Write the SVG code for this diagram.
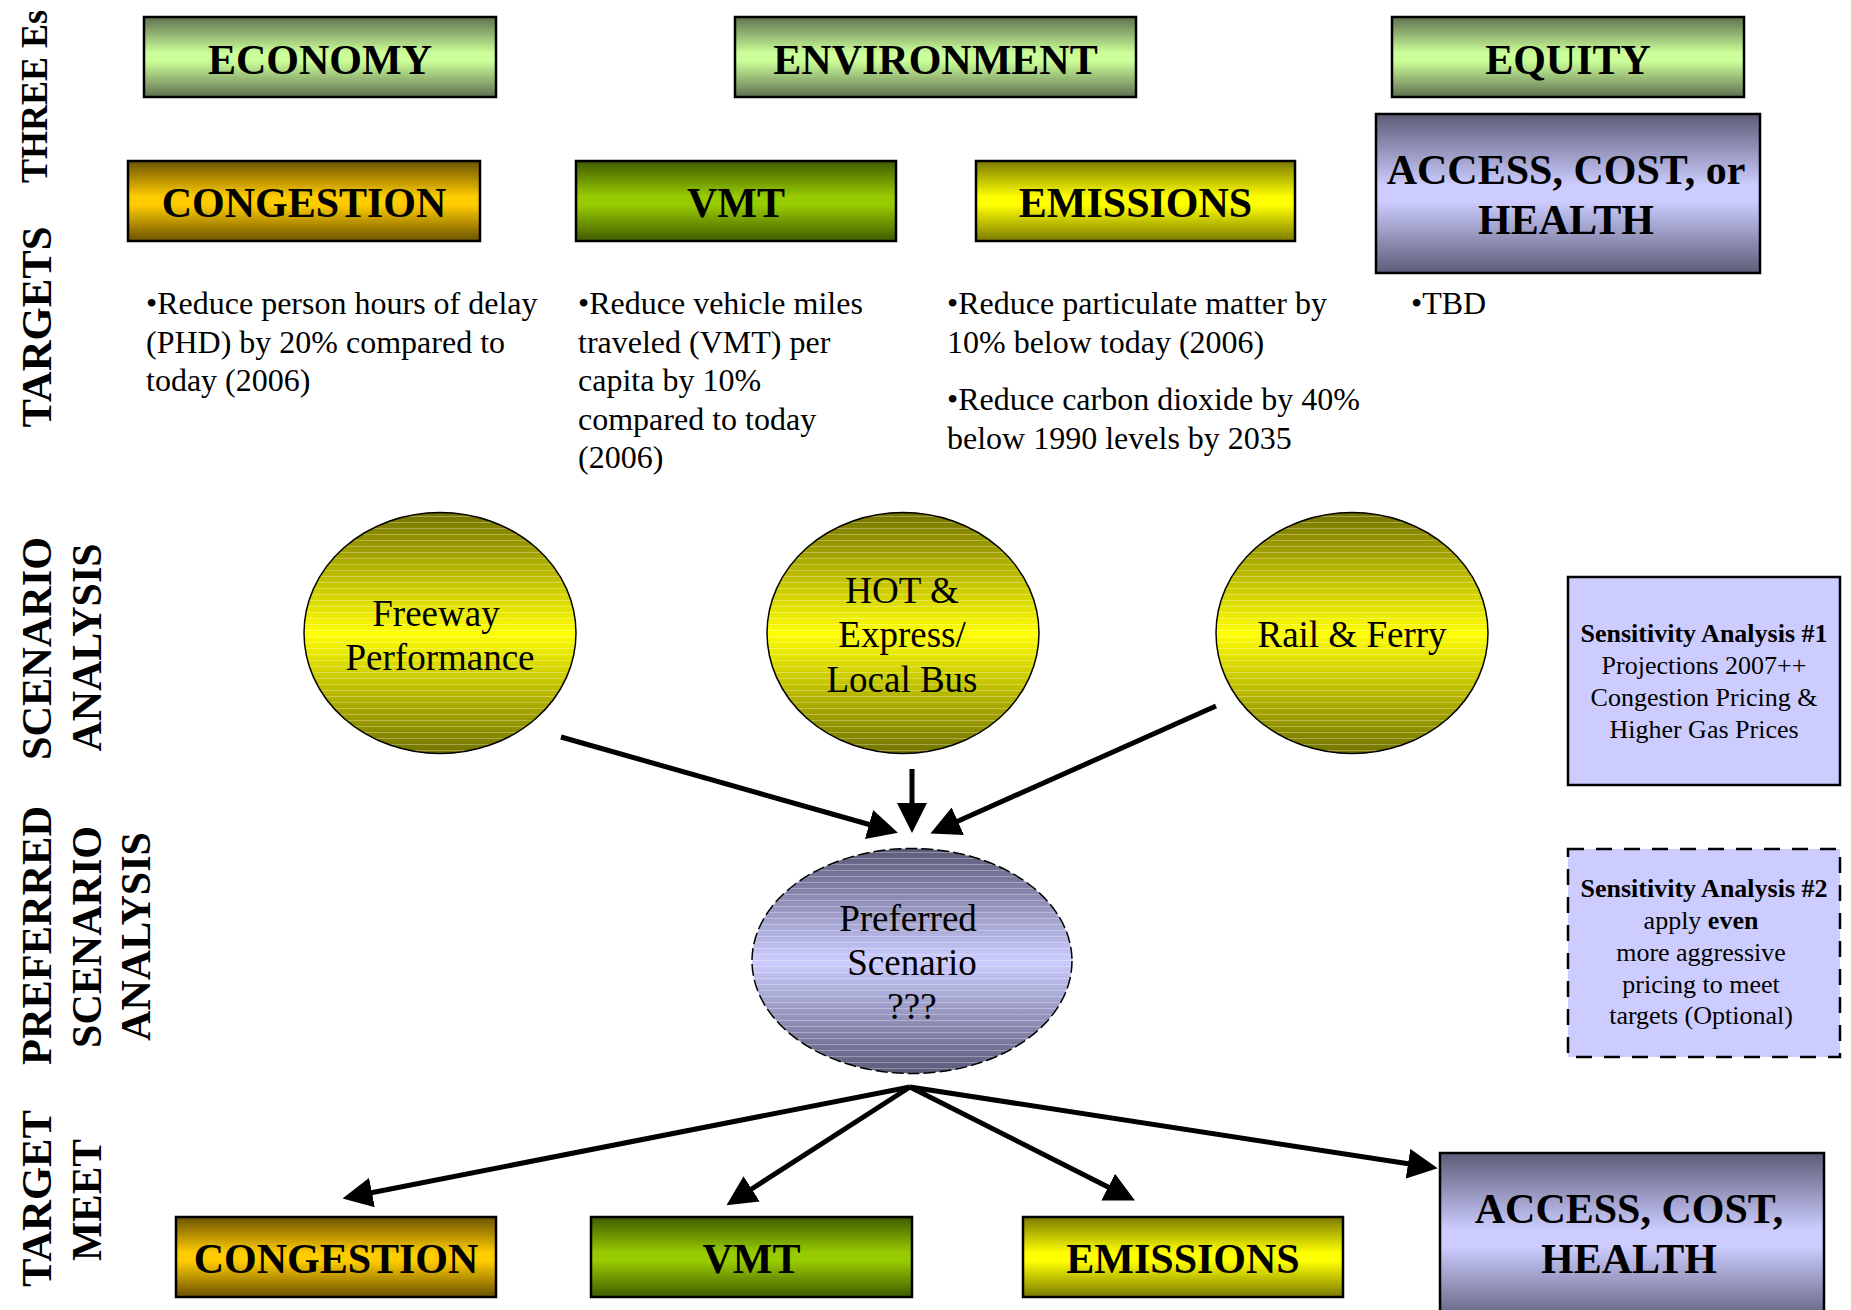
<svg xmlns="http://www.w3.org/2000/svg" width="1851" height="1310" viewBox="0 0 1851 1310">
<style>
.box{stroke:#000;stroke-width:2.5}
.hdr{font-family:"Liberation Serif","Times New Roman",serif;font-weight:bold;font-size:42px;text-anchor:middle;fill:#000}
.side{font-family:"Liberation Serif","Times New Roman",serif;font-weight:bold;font-size:43px;text-anchor:middle;fill:#000}
.body{font-family:"Liberation Serif","Times New Roman",serif;font-size:32px;fill:#000}
.ell{font-family:"Liberation Serif","Times New Roman",serif;font-size:37px;text-anchor:middle;fill:#000}
.sens{font-family:"Liberation Serif","Times New Roman",serif;font-size:26px;text-anchor:middle;fill:#000}
.b{font-weight:bold}
.conn{stroke:#000;stroke-width:5;fill:none;marker-end:url(#ah)}
</style>
<defs>
<marker id="ah" viewBox="0 0 30 30" refX="2" refY="15" markerWidth="30" markerHeight="30" markerUnits="userSpaceOnUse" orient="auto">
<path d="M0,0 L30,15 L0,30 z" fill="#000"/>
</marker>
<linearGradient id="gE" x1="0" y1="0" x2="0" y2="1"><stop offset="0" stop-color="#5f7050"/><stop offset="0.45" stop-color="#ccff99"/><stop offset="0.55" stop-color="#ccff99"/><stop offset="1" stop-color="#5f7050"/></linearGradient>
<linearGradient id="gC" x1="0" y1="0" x2="0" y2="1"><stop offset="0" stop-color="#6b5200"/><stop offset="0.45" stop-color="#ffcc00"/><stop offset="0.55" stop-color="#ffcc00"/><stop offset="1" stop-color="#6b5200"/></linearGradient>
<linearGradient id="gV" x1="0" y1="0" x2="0" y2="1"><stop offset="0" stop-color="#3f5a00"/><stop offset="0.45" stop-color="#99cc00"/><stop offset="0.55" stop-color="#99cc00"/><stop offset="1" stop-color="#3f5a00"/></linearGradient>
<linearGradient id="gM" x1="0" y1="0" x2="0" y2="1"><stop offset="0" stop-color="#7a7a00"/><stop offset="0.45" stop-color="#ffff00"/><stop offset="0.55" stop-color="#ffff00"/><stop offset="1" stop-color="#7a7a00"/></linearGradient>
<linearGradient id="gA" x1="0" y1="0" x2="0" y2="1"><stop offset="0" stop-color="#5c5c78"/><stop offset="0.45" stop-color="#ccccff"/><stop offset="0.55" stop-color="#ccccff"/><stop offset="1" stop-color="#5c5c78"/></linearGradient>
<linearGradient id="gY" x1="0" y1="0" x2="0" y2="1"><stop offset="0" stop-color="#737300"/><stop offset="0.5" stop-color="#ffff00"/><stop offset="1" stop-color="#737300"/></linearGradient>
<linearGradient id="gP" x1="0" y1="0" x2="0" y2="1"><stop offset="0" stop-color="#5a5a78"/><stop offset="0.5" stop-color="#ccccff"/><stop offset="1" stop-color="#5a5a78"/></linearGradient>
<pattern id="stripes" width="20" height="6" patternUnits="userSpaceOnUse"><rect x="0" y="0" width="20" height="1" fill="#ffffff" fill-opacity="0.3"/></pattern>
</defs>
<rect width="1851" height="1310" fill="#fff"/>

<g id="side-labels">
<text class="side" style="font-size:38px" textLength="173" lengthAdjust="spacingAndGlyphs" transform="translate(47,96.5) rotate(-90)">THREE Es</text>
<text class="side" textLength="201" lengthAdjust="spacingAndGlyphs" transform="translate(51,327) rotate(-90)">TARGETS</text>
<text class="side" textLength="223" lengthAdjust="spacingAndGlyphs" transform="translate(51,648.5) rotate(-90)">SCENARIO</text>
<text class="side" textLength="208" lengthAdjust="spacingAndGlyphs" transform="translate(101,647.5) rotate(-90)">ANALYSIS</text>
<text class="side" textLength="259" lengthAdjust="spacingAndGlyphs" transform="translate(51,935.5) rotate(-90)">PREFERRED</text>
<text class="side" textLength="222" lengthAdjust="spacingAndGlyphs" transform="translate(101,937) rotate(-90)">SCENARIO</text>
<text class="side" textLength="209" lengthAdjust="spacingAndGlyphs" transform="translate(150,936.5) rotate(-90)">ANALYSIS</text>
<text class="side" textLength="177" lengthAdjust="spacingAndGlyphs" transform="translate(51,1198.5) rotate(-90)">TARGET</text>
<text class="side" textLength="122" lengthAdjust="spacingAndGlyphs" transform="translate(101,1200) rotate(-90)">MEET</text>
</g>

<g id="economy"><rect class="box" x="144" y="17" width="352" height="80" fill="url(#gE)"/><text class="hdr" x="320" y="73.5">ECONOMY</text></g>
<g id="environment"><rect class="box" x="735" y="17" width="401" height="80" fill="url(#gE)"/><text class="hdr" x="935.5" y="73.5">ENVIRONMENT</text></g>
<g id="equity"><rect class="box" x="1392" y="17" width="352" height="80" fill="url(#gE)"/><text class="hdr" x="1568" y="73.5">EQUITY</text></g>

<g id="congestion-target"><rect class="box" x="128" y="161" width="352" height="80" fill="url(#gC)"/><text class="hdr" x="304" y="216.5">CONGESTION</text></g>
<g id="vmt-target"><rect class="box" x="576" y="161" width="320" height="80" fill="url(#gV)"/><text class="hdr" x="736" y="216.5">VMT</text></g>
<g id="emissions-target"><rect class="box" x="976" y="161" width="319" height="80" fill="url(#gM)"/><text class="hdr" x="1135.5" y="216.5">EMISSIONS</text></g>
<g id="access-target"><rect class="box" x="1376" y="114" width="384" height="159" fill="url(#gA)"/><text class="hdr" x="1566" y="184">ACCESS, COST, or</text><text class="hdr" x="1566" y="234">HEALTH</text></g>

<g id="congestion-text"><text class="body" x="146" y="314">•Reduce person hours of delay</text><text class="body" x="146" y="352.5">(PHD) by 20% compared to</text><text class="body" x="146" y="391">today (2006)</text></g>
<g id="vmt-text"><text class="body" x="578" y="314">•Reduce vehicle miles</text><text class="body" x="578" y="352.5">traveled (VMT) per</text><text class="body" x="578" y="391">capita by 10%</text><text class="body" x="578" y="429.5">compared to today</text><text class="body" x="578" y="468">(2006)</text></g>
<g id="emissions-text"><text class="body" x="947" y="314">•Reduce particulate matter by</text><text class="body" x="947" y="352.5">10% below today (2006)</text><text class="body" x="947" y="410">•Reduce carbon dioxide by 40%</text><text class="body" x="947" y="448.5">below 1990 levels by 2035</text></g>
<g id="equity-text"><text class="body" x="1411" y="314">•TBD</text></g>

<g id="freeway"><ellipse cx="440" cy="633" rx="136" ry="120.5" fill="url(#gY)"/><ellipse cx="440" cy="633" rx="136" ry="120.5" fill="url(#stripes)" stroke="#000" stroke-width="1.5"/><text class="ell" x="436" y="626">Freeway</text><text class="ell" x="440" y="670">Performance</text></g>
<g id="hot-bus"><ellipse cx="903" cy="633" rx="136" ry="120.5" fill="url(#gY)"/><ellipse cx="903" cy="633" rx="136" ry="120.5" fill="url(#stripes)" stroke="#000" stroke-width="1.5"/><text class="ell" x="902" y="603">HOT &amp;</text><text class="ell" x="902" y="647">Express/</text><text class="ell" x="902" y="692">Local Bus</text></g>
<g id="rail-ferry"><ellipse cx="1352" cy="633" rx="136" ry="120.5" fill="url(#gY)"/><ellipse cx="1352" cy="633" rx="136" ry="120.5" fill="url(#stripes)" stroke="#000" stroke-width="1.5"/><text class="ell" x="1352" y="647">Rail &amp; Ferry</text></g>
<g id="preferred"><ellipse cx="912" cy="961" rx="160" ry="112.5" fill="url(#gP)"/><ellipse cx="912" cy="961" rx="160" ry="112.5" fill="url(#stripes)" stroke="#000" stroke-width="1.5" stroke-dasharray="12,4"/><text class="ell" x="908" y="931">Preferred</text><text class="ell" x="912" y="975">Scenario</text><text class="ell" x="912" y="1019">???</text></g>

<g id="sensitivity-1"><rect x="1568" y="577" width="272" height="208" fill="#ccccff" stroke="#000" stroke-width="2.5"/><text class="sens b" x="1704" y="642">Sensitivity Analysis #1</text><text class="sens" x="1704" y="674">Projections 2007++</text><text class="sens" x="1704" y="706">Congestion Pricing &amp;</text><text class="sens" x="1704" y="738">Higher Gas Prices</text></g>
<g id="sensitivity-2"><rect x="1568" y="849" width="272" height="208" fill="#ccccff" stroke="#000" stroke-width="2.5" stroke-dasharray="16,12"/><text class="sens b" x="1704" y="897">Sensitivity Analysis #2</text><text class="sens" x="1701" y="929">apply <tspan class="b">even</tspan></text><text class="sens" x="1701" y="961">more aggressive</text><text class="sens" x="1701" y="993">pricing to meet</text><text class="sens" x="1701" y="1024">targets (Optional)</text></g>

<g id="congestion-meet"><rect class="box" x="176" y="1217" width="320" height="80" fill="url(#gC)"/><text class="hdr" x="336" y="1272.5">CONGESTION</text></g>
<g id="vmt-meet"><rect class="box" x="591" y="1217" width="321" height="80" fill="url(#gV)"/><text class="hdr" x="751.5" y="1272.5">VMT</text></g>
<g id="emissions-meet"><rect class="box" x="1023" y="1217" width="320" height="80" fill="url(#gM)"/><text class="hdr" x="1183" y="1272.5">EMISSIONS</text></g>
<g id="access-meet"><rect class="box" x="1440" y="1153" width="384" height="170" fill="url(#gA)"/><text class="hdr" x="1629" y="1223">ACCESS, COST,</text><text class="hdr" x="1629" y="1273">HEALTH</text></g>

<g id="connectors">
<line class="conn" x1="561" y1="737" x2="871" y2="825"/>
<line class="conn" x1="912" y1="769" x2="912" y2="805"/>
<line class="conn" x1="1216" y1="706" x2="956" y2="822"/>
<line class="conn" x1="910" y1="1087" x2="370" y2="1193"/>
<line class="conn" x1="910" y1="1087" x2="750" y2="1190"/>
<line class="conn" x1="910" y1="1087" x2="1110" y2="1188"/>
<line class="conn" x1="910" y1="1087" x2="1410" y2="1164"/>
</g>
</svg>
